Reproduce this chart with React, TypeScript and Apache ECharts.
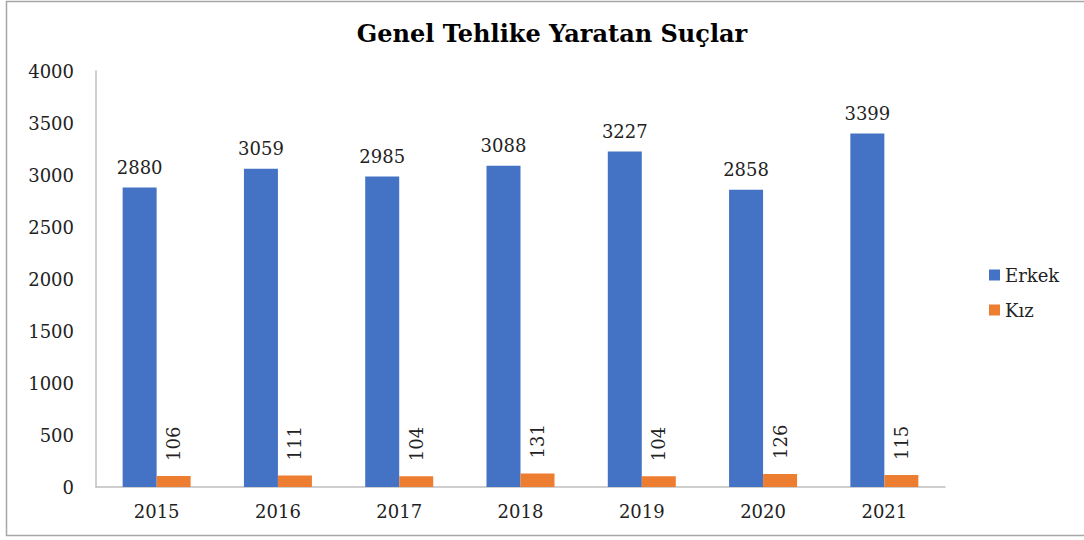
import React, { useEffect, useRef } from "react";
import * as echarts from "echarts";

const categories = ["2015", "2016", "2017", "2018", "2019", "2020", "2021"];
const erkek = [2880, 3059, 2985, 3088, 3227, 2858, 3399];
const kiz = [106, 111, 104, 131, 104, 126, 115];
const titleText = "Genel Tehlike Yaratan Suçlar";
const serif = "'DejaVu Serif', 'Liberation Serif', serif";

export default function App() {
  const ref = useRef<HTMLDivElement>(null);
  useEffect(() => {
    document.body.style.margin = "0";
    const chart = echarts.init(ref.current!, undefined, { renderer: "svg" });
    chart.setOption({
      animation: false,
      backgroundColor: "#ffffff",
      textStyle: { fontFamily: serif },
      title: {
        text: titleText,
        left: 547,
        textAlign: "center",
        top: 16,
        textStyle: { fontFamily: serif, fontSize: 24, fontWeight: "bold", color: "#000" },
      },
      graphic: [
        {
          type: "rect",
          shape: { x: 6.5, y: 1.5, width: 1100, height: 534 },
          style: { fill: "none", stroke: "#a6a6a6", lineWidth: 1.5 },
          silent: true,
        },
      ],
      legend: {
        orient: "vertical",
        left: 984,
        top: 261,
        itemWidth: 11,
        itemHeight: 11,
        itemGap: 17,
        icon: "rect",
        textStyle: { fontFamily: serif, fontSize: 18, color: "#222" },
        data: ["Erkek", "Kız"],
      },
      grid: { left: 96, right: 139, top: 71, bottom: 53, containLabel: false },
      xAxis: {
        type: "category",
        data: categories,
        axisLine: { lineStyle: { color: "#bfbfbf", width: 1.5 } },
        axisTick: { show: false },
        axisLabel: { fontFamily: serif, fontSize: 18, color: "#222", margin: 15 },
      },
      yAxis: {
        type: "value",
        min: 0,
        max: 4000,
        interval: 500,
        axisLine: { show: true, lineStyle: { color: "#bfbfbf", width: 1.5 } },
        axisTick: { show: false },
        splitLine: { show: false },
        axisLabel: {
          fontFamily: serif,
          fontSize: 18,
          color: "#222",
          margin: 22,
          formatter: (v: number) => String(v),
        },
      },
      series: [
        {
          name: "Erkek",
          type: "bar",
          data: erkek,
          barWidth: 34,
          barGap: "0%",
          itemStyle: { color: "#4472C4" },
          label: {
            show: true,
            position: "top",
            distance: 11,
            fontFamily: serif,
            fontSize: 18,
            color: "#222",
          },
        },
        {
          name: "Kız",
          type: "bar",
          data: kiz,
          barWidth: 34,
          itemStyle: { color: "#ED7D31" },
          label: {
            show: true,
            position: "top",
            rotate: 90,
            align: "left",
            verticalAlign: "middle",
            distance: 15,
            fontFamily: serif,
            fontSize: 18,
            color: "#222",
          },
        },
      ],
    });
    return () => chart.dispose();
  }, []);
  return <div ref={ref} style={{ width: 1084, height: 540 }} />;
}
